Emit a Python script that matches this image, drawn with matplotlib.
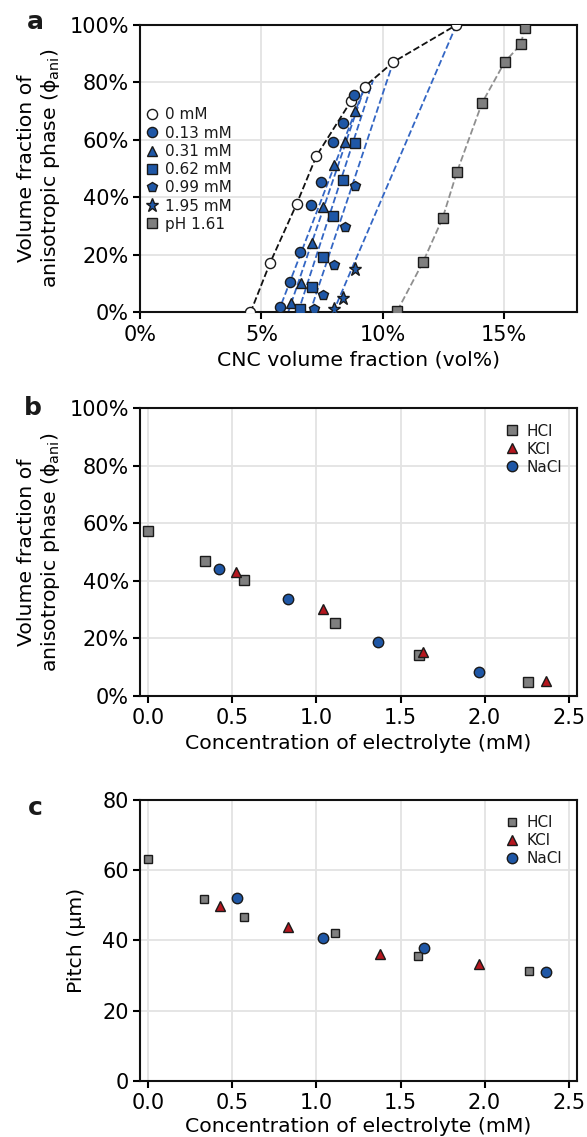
import numpy as np
import matplotlib
matplotlib.use("Agg")
import matplotlib.pyplot as plt
from matplotlib.ticker import PercentFormatter, MultipleLocator

# ---------------- Panel a data ----------------
x_0mM = [4.55, 5.35, 6.45, 7.27, 8.68, 9.26, 10.43, 13.03]
y_0mM = [0.0, 17.1, 37.7, 54.5, 73.4, 78.6, 87.1, 100.0]

x_013 = [5.76, 6.19, 6.57, 7.04, 7.46, 7.96, 8.38, 8.81]
y_013 = [1.8, 10.5, 20.9, 37.3, 45.3, 59.3, 65.8, 75.8]

x_031 = [6.23, 6.65, 7.09, 7.52, 7.98, 8.44, 8.86]
y_031 = [3.4, 10.3, 24.0, 36.7, 51.4, 59.3, 70.0]

x_062 = [6.61, 7.09, 7.52, 7.96, 8.38, 8.87]
y_062 = [1.3, 9.0, 19.2, 33.6, 46.2, 59.1]

x_099 = [7.15, 7.54, 8.00, 8.44, 8.86]
y_099 = [1.1, 6.0, 16.4, 29.8, 43.9]

x_195 = [8.00, 8.37, 8.86]
y_195 = [1.1, 4.9, 15.2]

x_ph = [10.60, 11.66, 12.46, 13.06, 14.09, 15.02, 15.69, 15.84]
y_ph = [0.6, 17.6, 32.7, 49.0, 72.9, 87.1, 93.3, 98.9]

# guide lines: start at phi=0, end on the 0 mM curve
guide_x0 = [5.69, 6.10, 6.51, 7.00, 7.95]
guide_x1 = [9.26, 9.26, 9.60, 10.43, 13.03]
guide_y1 = [78.6, 78.6, 80.8, 87.1, 100.0]

labels_a = ["0 mM", "0.13 mM", "0.31 mM", "0.62 mM", "0.99 mM", "1.95 mM", "pH 1.61"]

# ---------------- Panel b data ----------------
hcl_c = [0.0, 0.335, 0.571, 1.112, 1.607, 2.257]
hcl_phi = [57.5, 46.8, 40.3, 25.4, 14.3, 5.0]
kcl_c = [0.521, 1.039, 1.635, 2.364]
kcl_phi = [43.2, 30.4, 15.4, 5.2]
nacl_c = [0.42, 0.829, 1.367, 1.966]
nacl_phi = [44.2, 33.6, 18.9, 8.3]

# ---------------- Panel c data ----------------
hcl_c2 = [0.0, 0.331, 0.571, 1.112, 1.603, 2.262]
hcl_pitch = [63.2, 51.9, 46.6, 42.0, 35.6, 31.3]
kcl_c2 = [0.428, 0.829, 1.378, 1.966]
kcl_pitch = [49.9, 43.7, 36.1, 33.4]
nacl_c2 = [0.527, 1.039, 1.639, 2.364]
nacl_pitch = [52.1, 40.8, 37.8, 31.0]

# ---------------- style ----------------
BLUE = "#1f57a6"
BLUE_LINE = "#3366c4"
RED = "#b5171f"
GRAY = "#7f7f7f"
EDGE = "#1a1a1a"

plt.rcParams["font.family"] = ["DejaVu Sans"]
plt.rcParams["axes.linewidth"] = 1.5
plt.rcParams["xtick.major.width"] = 1.5
plt.rcParams["ytick.major.width"] = 1.5
plt.rcParams["xtick.major.size"] = 5
plt.rcParams["ytick.major.size"] = 5
plt.rcParams["xtick.labelsize"] = 15
plt.rcParams["ytick.labelsize"] = 15
plt.rcParams["axes.labelsize"] = 14.7
plt.rcParams["text.color"] = "#1a1a1a"
plt.rcParams["mathtext.fontset"] = "dejavusans"

W, H = 587, 1137
fig = plt.figure(figsize=(W / 100, H / 100), dpi=100)

def add_ax(top, bottom, left=140, right=577):
    return fig.add_axes([left / W, 1 - bottom / H, (right - left) / W, (bottom - top) / H])

axa = add_ax(25, 312.5)
axb = add_ax(408.3, 696)
axc = add_ax(800, 1080.7)

for ax in (axa, axb, axc):
    ax.grid(True, color="#e3e3e3", linewidth=1.3, zorder=0)
    ax.set_axisbelow(True)
    for s in ax.spines.values():
        s.set_color("#111111")
    ax.tick_params(axis="y", pad=3)
    ax.tick_params(axis="x", pad=4)

ylab = "Volume fraction of\nanisotropic phase ($\\mathrm{\\phi}_{\\mathrm{ani}}$)"

# ---- panel a ----
for x0, x1, y1 in zip(guide_x0, guide_x1, guide_y1):
    axa.plot([x0, x1], [0, y1], ls="--", color=BLUE_LINE, lw=1.3, zorder=2)
axa.plot(x_0mM, y_0mM, ls="--", color="#111111", lw=1.3, zorder=2)
axa.plot(x_ph, y_ph, ls="--", color="#8f8f8f", lw=1.3, zorder=2)

ms = 7.3
hs = []
hs.append(axa.plot(x_0mM, y_0mM, ls="none", marker="o", ms=ms, mfc="white", mec=EDGE, mew=1, zorder=3)[0])
for xs, ys, mk, m in [(x_013, y_013, "o", ms), (x_031, y_031, "^", ms), (x_062, y_062, "s", ms - 0.5),
                      (x_099, y_099, "p", ms + 0.5), (x_195, y_195, "*", ms + 2.5)]:
    hs.append(axa.plot(xs, ys, ls="none", marker=mk, ms=m, mfc=BLUE, mec=EDGE, mew=1, zorder=3)[0])
hs.append(axa.plot(x_ph, y_ph, ls="none", marker="s", ms=ms - 0.5, mfc=GRAY, mec=EDGE, mew=1, zorder=3)[0])

axa.set_xlim(0, 18)
axa.set_ylim(0, 100)
axa.xaxis.set_major_locator(MultipleLocator(5))
axa.yaxis.set_major_locator(MultipleLocator(20))
axa.xaxis.set_major_formatter(PercentFormatter(decimals=0))
axa.yaxis.set_major_formatter(PercentFormatter(decimals=0))
axa.set_xlabel("CNC volume fraction (vol%)", labelpad=4)
axa.set_ylabel(ylab, labelpad=5)
axa.legend(hs, labels_a, loc="upper left", bbox_to_anchor=(-0.01, 0.745), frameon=False,
           fontsize=11, handlelength=0.9, handletextpad=0.45, labelspacing=0.21, borderaxespad=0.2)

# ---- panel b ----
hb = []
hb.append(axb.plot(hcl_c, hcl_phi, ls="none", marker="s", ms=7, mfc=GRAY, mec=EDGE, mew=1, zorder=3)[0])
hb.append(axb.plot(kcl_c, kcl_phi, ls="none", marker="^", ms=7.5, mfc=RED, mec=EDGE, mew=1, zorder=3)[0])
hb.append(axb.plot(nacl_c, nacl_phi, ls="none", marker="o", ms=7.5, mfc=BLUE, mec=EDGE, mew=1, zorder=3)[0])
axb.set_xlim(-0.05, 2.55)
axb.set_ylim(0, 100)
axb.xaxis.set_major_locator(MultipleLocator(0.5))
axb.yaxis.set_major_locator(MultipleLocator(20))
axb.yaxis.set_major_formatter(PercentFormatter(decimals=0))
axb.set_xlabel("Concentration of electrolyte (mM)", labelpad=4)
axb.set_ylabel(ylab, labelpad=5)
axb.legend(hb, ["HCl", "KCl", "NaCl"], loc="upper right", frameon=False, fontsize=11,
           handlelength=0.9, handletextpad=0.45, labelspacing=0.2, borderaxespad=0.6)

# ---- panel c ----
hc = []
hc.append(axc.plot(hcl_c2, hcl_pitch, ls="none", marker="s", ms=5.5, mfc=GRAY, mec=EDGE, mew=1, zorder=3)[0])
hc.append(axc.plot(kcl_c2, kcl_pitch, ls="none", marker="^", ms=7.5, mfc=RED, mec=EDGE, mew=1, zorder=3)[0])
hc.append(axc.plot(nacl_c2, nacl_pitch, ls="none", marker="o", ms=7.5, mfc=BLUE, mec=EDGE, mew=1, zorder=3)[0])
axc.set_xlim(-0.05, 2.55)
axc.set_ylim(0, 80)
axc.xaxis.set_major_locator(MultipleLocator(0.5))
axc.yaxis.set_major_locator(MultipleLocator(20))
axc.set_xlabel("Concentration of electrolyte (mM)", labelpad=3)
axc.set_ylabel("Pitch (\u03bcm)", labelpad=12)
axc.legend(hc, ["HCl", "KCl", "NaCl"], loc="upper right", frameon=False, fontsize=11,
           handlelength=0.9, handletextpad=0.45, labelspacing=0.2, borderaxespad=0.6)

# panel letters
for lab, (px, py) in zip(["a", "b", "c"], [(35, 22), (33, 408), (35, 808)]):
    fig.text(px / W, 1 - py / H, lab, fontsize=18, fontweight="bold", ha="center", va="center")

fig.savefig("out.png", dpi=100)
